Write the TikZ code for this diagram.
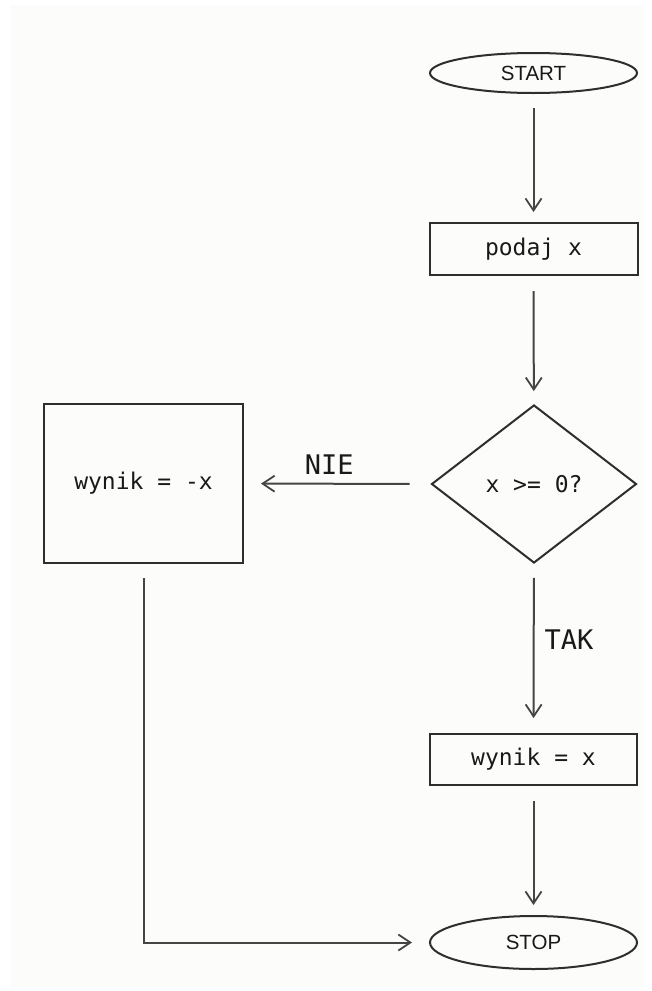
\documentclass[tikz,border=0pt]{standalone}
\usepackage{fontspec}
\setmainfont{DejaVu Sans}
\newfontfamily\monof{DejaVu Sans Mono}
\newfontfamily\sansf{Liberation Sans}
\usetikzlibrary{shapes.geometric,arrows.meta}
\definecolor{lineC}{HTML}{2E2E2E}
\definecolor{arrC}{HTML}{454545}
\definecolor{bgC}{HTML}{FCFCFB}
\begin{document}
\begin{tikzpicture}[x=1pt,y=-1pt,
  shapebox/.style={draw=lineC,line width=2pt,inner sep=0pt,font=\monof\fontsize{23}{27}\selectfont,text=black!90},
  procbox/.style={shapebox,rectangle},
  termbox/.style={shapebox,ellipse,minimum width=207pt,minimum height=40pt,font=\sansf\fontsize{20.5}{24}\selectfont},
  decbox/.style={shapebox,diamond,minimum width=205pt,minimum height=158pt},
  flow/.style={draw=arrC,line width=2pt,-{Straight Barb[length=12pt,width=16pt,line width=1.8pt]}},
  lbl/.style={font=\monof\fontsize{27}{31}\selectfont,text=black!90,inner sep=0pt}]
\useasboundingbox (0,0) rectangle (652,991);
\fill[bgC] (10,5) rectangle (643,987);
\node[termbox] (start) at (533.5,73) {START};
\node[procbox,minimum width=208pt,minimum height=52pt] (podaj) at (533.5,249) {podaj x};
\node[decbox] (dec) at (534,484) {x >= 0?};
\node[procbox,minimum width=199pt,minimum height=159pt] (neg) at (143.5,483.5) {wynik = -x};
\node[procbox,minimum width=207pt,minimum height=51pt] (pos) at (533.5,759.5) {wynik = x};
\node[termbox,minimum height=53pt] (stop) at (533.5,942.5) {STOP};
\coordinate (corner) at (143.5,942.5);
\draw[flow,shorten <=14pt,shorten >=10pt] (start) -- (podaj);
\draw[flow,shorten <=15pt,shorten >=13pt] (podaj) -- (dec);
\draw[flow,shorten <=21pt,shorten >=17pt] (dec) -- node[lbl,pos=0.5,above=8pt,xshift=-8pt] {NIE} (neg);
\draw[flow,shorten <=14pt,shorten >=15pt] (dec) -- node[lbl,pos=0.45,right=10pt] {TAK} (pos);
\draw[flow,shorten <=15pt,shorten >=10pt] (pos) -- (stop);
\draw[flow,shorten <=14pt,shorten >=17pt] (neg.south) -- (corner) -- (stop.west);
\end{tikzpicture}
\end{document}
